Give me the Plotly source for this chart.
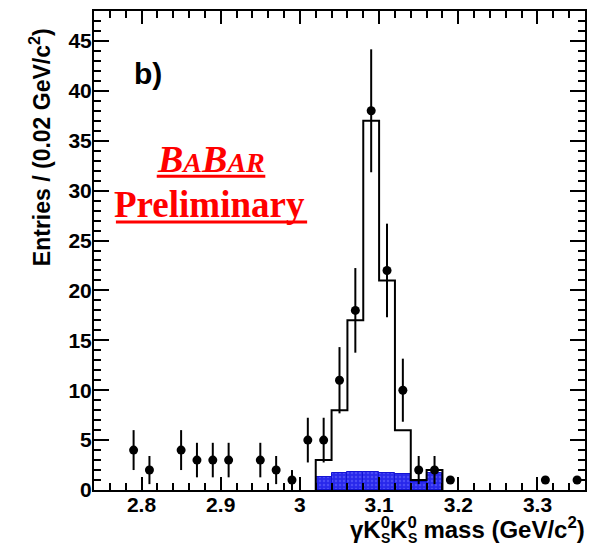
import plotly.graph_objects as go

# Measured spectrum: bin centres (GeV/c^2), entries per 0.02 GeV/c^2 and their errors
data_mass = [2.79, 2.81, 2.85, 2.87, 2.89, 2.91, 2.95, 2.97, 2.99, 3.01, 3.03,
             3.05, 3.07, 3.09, 3.11, 3.13, 3.15, 3.17, 3.19, 3.31, 3.35]
data_entries = [4, 2, 4, 3, 3, 3, 3, 2, 1, 5, 5,
                11, 18, 38, 22, 10, 2, 2, 1, 1, 1]
data_errors = [2.0, 1.41, 2.0, 1.73, 1.73, 1.73, 1.73, 1.41, 1.0, 2.24, 2.24,
               3.32, 4.24, 6.16, 4.69, 3.16, 1.41, 1.41, 0, 0, 0]

# Signal Monte Carlo histogram (bin edges and contents)
mc_edges = [3.02, 3.04, 3.06, 3.08, 3.10, 3.12, 3.14, 3.16, 3.18]
mc_counts = [3, 8, 17, 37, 21, 6, 1, 2]

# Background estimate per bin (same binning)
bkg_centres = [3.03, 3.05, 3.07, 3.09, 3.11, 3.13, 3.15, 3.17]
bkg_counts = [1.3, 1.75, 1.83, 1.83, 1.75, 1.62, 0.85, 1.7]

BIN_WIDTH = 0.02
X_RANGE = [2.74, 3.36]
Y_RANGE = [0, 48]

# Plot-area geometry in pixels
W, H = 596, 547
ML, MR, MT, MB = 94, 9, 9, 57
PW, PH = W - ML - MR, H - MT - MB


def px(x):
    return (x - ML) / PW


def py(y):
    return (H - MB - y) / PH


fig = go.Figure()

fig.add_trace(go.Bar(
    x=bkg_centres, y=bkg_counts, width=BIN_WIDTH,
    marker=dict(color="rgb(40,40,235)",
                line=dict(color="rgb(20,20,210)", width=1),
                pattern=dict(shape=".", fgcolor="rgb(110,110,255)",
                             size=4, solidity=0.3)),
    showlegend=False,
))

# Step outline of the MC histogram
step_x = [mc_edges[0]] + mc_edges
step_y = [0] + mc_counts + [0]
fig.add_trace(go.Scatter(
    x=step_x, y=step_y, mode="lines",
    line=dict(color="black", width=2, shape="hv"),
    showlegend=False,
))

fig.add_trace(go.Scatter(
    x=data_mass, y=data_entries, mode="markers",
    marker=dict(color="black", size=9),
    error_y=dict(type="data", array=data_errors, visible=True,
                 color="black", thickness=2, width=0),
    showlegend=False,
))

tick_font = dict(family="Liberation Sans, Arial, sans-serif", size=21,
                 color="black", weight="bold")

fig.update_xaxes(
    range=X_RANGE, dtick=0.1, ticks="inside", ticklen=13, tickwidth=2,
    tickcolor="black", showline=True, linecolor="black", linewidth=2,
    mirror="ticks", showgrid=False, zeroline=False, tickfont=tick_font,
    ticklabelstandoff=-5,
    minor=dict(dtick=0.02, ticks="inside", ticklen=7, tickwidth=2,
               tickcolor="black", showgrid=False),
)
fig.update_yaxes(
    range=Y_RANGE, dtick=5, ticks="inside", ticklen=15, tickwidth=2,
    tickcolor="black", showline=True, linecolor="black", linewidth=2,
    mirror="ticks", showgrid=False, zeroline=False, tickfont=tick_font,
    ticklabelstandoff=-4,
    minor=dict(dtick=1, ticks="inside", ticklen=7, tickwidth=2,
               tickcolor="black", showgrid=False),
)

title_font = dict(family="Liberation Sans, Arial, sans-serif", size=23,
                  color="black", weight="bold")
xtitle_font = dict(title_font, size=24)
sub_font = dict(family="Liberation Sans, Arial, sans-serif", size=14,
                color="black", weight="bold")
serif_red = dict(family="Liberation Serif, Times New Roman, serif",
                 color="rgb(255,0,0)", weight="bold")

annotations = [
    dict(text="γK<sup>0</sup>K<sup>0</sup> mass (GeV/c<sup>2</sup>)",
         x=px(589), y=py(528), xanchor="right", yanchor="middle",
         font=xtitle_font),
    # S subscripts stacked under the K0 superscripts
    dict(text="S", x=px(387), y=py(538), xanchor="center", yanchor="middle",
         font=sub_font),
    dict(text="S", x=px(414), y=py(538), xanchor="center", yanchor="middle",
         font=sub_font),
    dict(text="Entries / (0.02 GeV/c<sup>2</sup>)", textangle=-90,
         x=px(40), y=py(24), xanchor="center", yanchor="top",
         font=title_font),
    dict(text="b)", x=px(148), y=py(72), xanchor="center", yanchor="middle",
         font=dict(family="Liberation Sans, Arial, sans-serif", size=30,
                   color="black", weight="bold")),
    dict(text="<i>B<span style='font-size:28px'>A</span>B<span style='font-size:28px'>AR</span></i>",
         x=px(211), y=py(158), xanchor="center", yanchor="middle",
         font=dict(size=38, **serif_red)),
    dict(text="Preliminary", x=px(210), y=py(203), xanchor="center",
         yanchor="middle", font=dict(size=37, **serif_red)),
]
for a in annotations:
    a.update(xref="paper", yref="paper", showarrow=False)

shapes = [
    dict(type="line", x0=px(157), x1=px(266), y0=py(175), y1=py(175),
         line=dict(color="red", width=3)),
    dict(type="line", x0=px(116), x1=px(308), y0=py(221), y1=py(221),
         line=dict(color="red", width=3)),
]
for s in shapes:
    s.update(xref="paper", yref="paper")

fig.update_layout(
    width=W, height=H,
    margin=dict(l=ML, r=MR, t=MT, b=MB),
    plot_bgcolor="white", paper_bgcolor="white",
    bargap=0, barmode="overlay",
    annotations=annotations, shapes=shapes,
)

fig.write_html("out.html")
